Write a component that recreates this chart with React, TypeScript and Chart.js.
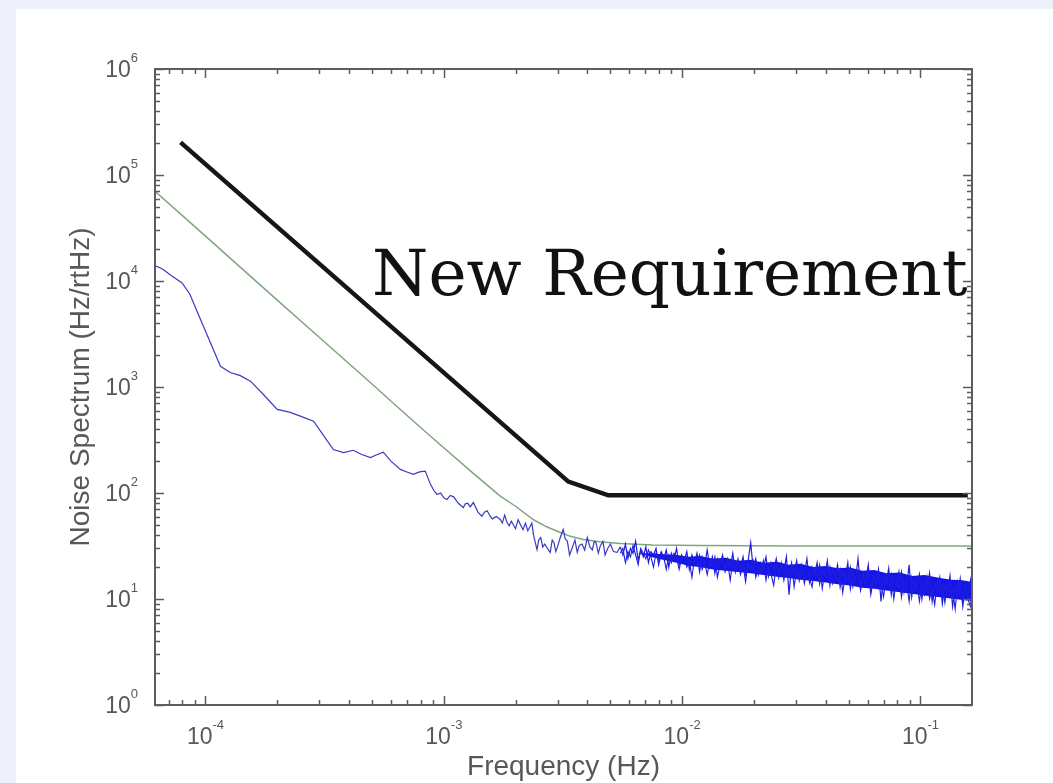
import React, { useEffect, useRef } from "react";
import { Chart, registerables } from "chart.js";

Chart.register(...registerables);

// ---- axis ranges & tick labels ----
const xMin = 6.14e-5;
const xMax = 0.1645;
const yMin = 1;
const yMax = 1e6;
const xTickExps = [-4, -3, -2, -1];
const yTickExps = [0, 1, 2, 3, 4, 5, 6];
const xTitle = "Frequency (Hz)";
const yTitle = "Noise Spectrum (Hz/rtHz)";
const requirementLabel = "New Requirement";
const requirementLabelFreq = 5.0e-4;
const requirementLabelEndFreq = 0.158;
const requirementLabelVal = 7300;

// ---- "New Requirement" (black) ----
const reqFreq = [7.86e-5, 3.33e-3, 4.9e-3, 0.158];
const reqVal = [2.03e5, 128, 95, 95];

// ---- model curve (green) ----
const modelFreq = [
  6.14e-5, 1e-4, 2e-4, 3e-4, 4.76e-4, 6.57e-4, 9.04e-4, 1.3e-3, 1.725e-3, 2e-3,
  2.37e-3, 2.7e-3, 3.08e-3, 3.4e-3, 3.85e-3, 4.5e-3, 5.5e-3, 7.5e-3, 1.19e-2, 3e-2, 0.1645,
];
const modelVal = [
  7.03e4, 2.65e4, 6.6e3, 2.95e3, 1178, 614, 325, 160, 93.3, 75,
  56.2, 48, 42.4, 39, 36.4, 34.6, 33.3, 32.4, 32, 31.7, 31.6,
];

// ---- measured spectrum (blue), low-frequency part ----
const blueLowFreq = [
  6.14e-5, 6.6e-5, 7.2e-5, 7.98e-5, 8.6e-5, 9.53e-5, 1.05e-4, 1.156e-4, 1.27e-4,
  1.4e-4, 1.545e-4, 1.75e-4, 2.0e-4, 2.25e-4, 2.5e-4, 2.84e-4, 3.1e-4, 3.44e-4,
  3.8e-4, 4.17e-4, 4.5e-4, 4.92e-4, 5.2e-4, 5.57e-4, 6.0e-4, 6.57e-4, 7.0e-4,
  7.45e-4, 7.9e-4, 8.36e-4, 8.8e-4, 9.1e-4, 9.37e-4, 9.7e-4, 1.0e-3, 1.031e-3,
  1.065e-3, 1.1e-3, 1.15e-3, 1.208e-3, 1.23e-3, 1.26e-3, 1.29e-3, 1.33e-3,
  1.39e-3, 1.445e-3, 1.48e-3, 1.52e-3, 1.56e-3, 1.6e-3, 1.66e-3, 1.725e-3,
  1.76e-3, 1.8e-3, 1.84e-3, 1.88e-3, 1.92e-3, 1.956e-3, 2.0e-3, 2.05e-3, 2.1e-3,
  2.15e-3, 2.2e-3, 2.25e-3, 2.306e-3, 2.34e-3, 2.38e-3, 2.42e-3, 2.46e-3, 2.5e-3,
  2.55e-3, 2.6e-3, 2.65e-3, 2.72e-3, 2.795e-3, 2.85e-3, 2.9e-3, 2.95e-3, 3.0e-3,
  3.08e-3, 3.17e-3, 3.23e-3, 3.3e-3, 3.37e-3, 3.45e-3, 3.55e-3, 3.63e-3, 3.7e-3,
  3.8e-3, 3.9e-3, 4.0e-3, 4.1e-3, 4.2e-3, 4.28e-3, 4.35e-3, 4.45e-3, 4.53e-3,
  4.65e-3, 4.75e-3, 4.87e-3, 5.0e-3, 5.15e-3, 5.34e-3,
];
const blueLowVal = [
  1.4e4, 1.3e4, 1.12e4, 9.6e3, 7.5e3, 4.33e3, 2.6e3, 1.57e3, 1.37e3,
  1.28e3, 1.135e3, 850, 614, 580, 531, 476, 360, 257,
  240, 253, 232, 216, 228, 243, 200, 167, 158,
  150, 158, 161, 120, 105, 96.8, 100, 90, 86.9,
  95, 92, 80, 73, 79, 80, 74, 81.3,
  66, 60.4, 66, 68, 61, 57, 60, 56.2,
  52, 62, 53, 49, 54, 50.4, 46, 56, 50,
  45, 52, 44, 48.6, 52, 40, 34, 29.3, 36,
  38, 31, 33, 30, 27.5, 36, 34, 28, 31,
  38, 45.3, 37, 35, 26, 30, 36, 27.5, 32,
  33, 29, 38, 31, 29, 35, 34, 27, 31.5,
  35, 26, 30, 33, 28, 27.5,
];

// ---- measured spectrum (blue), dense high-frequency part ----
const blueHighFreq = [
  5.5e-3, 5.64e-3, 5.78e-3, 5.92e-3, 6.07e-3, 6.22e-3, 6.38e-3, 6.54e-3, 6.7e-3, 6.87e-3,
  7.04e-3, 7.22e-3, 7.4e-3, 7.58e-3, 7.77e-3, 7.97e-3, 8.17e-3, 8.37e-3, 8.58e-3, 8.79e-3,
  9.01e-3, 9.24e-3, 9.47e-3, 9.71e-3, 9.95e-3,
  1.02e-2, 1.046e-2, 1.072e-2, 1.099e-2, 1.126e-2, 1.154e-2, 1.183e-2, 1.213e-2, 1.243e-2, 1.274e-2,
  1.306e-2, 1.339e-2, 1.372e-2, 1.406e-2, 1.441e-2, 1.477e-2, 1.514e-2, 1.552e-2, 1.591e-2, 1.631e-2,
  1.672e-2, 1.714e-2, 1.757e-2, 1.801e-2, 1.846e-2, 1.892e-2, 1.939e-2, 1.987e-2, 2.037e-2, 2.088e-2,
  2.14e-2, 2.193e-2, 2.248e-2, 2.304e-2, 2.362e-2, 2.421e-2, 2.482e-2, 2.544e-2, 2.607e-2, 2.672e-2,
  2.739e-2, 2.808e-2, 2.878e-2, 2.95e-2, 3.024e-2, 3.099e-2, 3.177e-2, 3.256e-2, 3.338e-2, 3.421e-2,
  3.507e-2, 3.594e-2, 3.684e-2, 3.776e-2, 3.871e-2, 3.967e-2, 4.067e-2, 4.168e-2, 4.272e-2, 4.379e-2,
  4.489e-2, 4.601e-2, 4.716e-2, 4.834e-2, 4.955e-2, 5.079e-2, 5.206e-2, 5.336e-2, 5.469e-2, 5.606e-2,
  5.746e-2, 5.89e-2, 6.037e-2, 6.188e-2, 6.343e-2, 6.501e-2, 6.664e-2, 6.83e-2, 7.001e-2, 7.176e-2,
  7.356e-2, 7.54e-2, 7.728e-2, 7.921e-2, 8.119e-2, 8.322e-2, 8.53e-2, 8.744e-2, 8.962e-2, 9.186e-2,
  9.416e-2, 9.651e-2, 9.893e-2,
  0.1014, 0.1039, 0.1065, 0.1092, 0.1119, 0.1147, 0.1176, 0.1205, 0.1235, 0.1266,
  0.1298, 0.133, 0.1364, 0.1398, 0.1433, 0.1468, 0.1505, 0.1543, 0.1581, 0.1621, 0.1645,
];
const blueHighVal = [
  31, 26, 33, 24, 30, 27, 35, 23, 29, 25,
  31, 22, 28, 26, 30, 21, 27, 24, 29, 20,
  27, 23, 30, 21, 26,
  23, 28, 19, 26, 22, 27, 18, 25, 21, 29,
  20, 25, 17.5, 24, 21, 26, 19, 24, 20, 27,
  18, 23, 20, 25, 17, 23, 34, 19, 24, 17,
  22, 19.5, 25, 16.5, 22, 19, 24, 16, 21, 18.5,
  25, 11, 21, 18, 23, 15, 20, 17.5, 24, 14.5,
  20, 17, 22, 14, 19.5, 16.5, 23, 13.5, 19, 16,
  21, 13, 18.5, 15.5, 22, 12.5, 18, 15, 24, 13,
  17.5, 14.5, 21, 12, 17, 14, 19, 9.5, 16.5, 14,
  19.5, 11, 16, 13.5, 18, 10.5, 15.5, 13, 21, 10.5,
  15, 12.5, 17,
  10, 14.5, 12, 17.5, 9.5, 14, 12, 16, 9, 13.5,
  11.5, 16.5, 8.5, 13, 11, 15.5, 8.5, 13, 10.5, 15, 11,
];
// second trace through the same bins (the dense band is two overlapping sweeps)
const blueHighVal2 = [
  27, 30, 22, 28, 25, 32, 26, 21, 30, 27,
  24, 29, 25, 20, 27, 23, 28, 25, 19, 26,
  22, 27, 25, 19, 24,
  25, 20, 23, 16, 24, 21, 26, 19, 22, 17,
  23, 20, 25, 16, 21, 24, 18, 22, 15, 23,
  19, 24, 17, 21, 14.5, 22, 19, 23, 16, 20,
  18, 23, 15, 20, 17, 13.5, 21, 18, 22, 15,
  20, 17, 22, 13, 19, 16.5, 21, 14, 18, 16,
  13, 19, 16, 21, 12.5, 18, 15.5, 20, 14, 17,
  15, 19, 11.5, 17, 14.5, 20, 13, 16.5, 18.5, 12,
  16, 13.5, 18.5, 11, 15.5, 13, 17.5, 14.5, 10.5, 16,
  13, 17, 10, 15, 12.5, 18, 11.5, 14.5, 9.5, 16,
  12, 15.5, 9.5,
  13.5, 11, 16, 10, 12.5, 8.8, 14.5, 11.5, 13.5, 9.2,
  14, 10.5, 12.5, 8, 14.5, 11, 9.5, 13.5, 10, 8.5, 12.5,
];

// ---- solid core of the dense blue band ----
const coreFreq = [
  6.5e-3, 7.35e-3, 8.3e-3, 9.5e-3, 1.07e-2, 1.19e-2, 1.35e-2, 1.52e-2, 1.72e-2, 1.93e-2,
  2.2e-2, 2.5e-2, 2.8e-2, 3.13e-2, 3.55e-2, 4e-2, 4.5e-2, 5.06e-2, 5.7e-2, 6.4e-2,
  7.2e-2, 8.2e-2, 9.2e-2, 0.104, 0.121, 0.135, 0.15, 0.1645,
];
const coreUpper = [
  27, 27, 26.5, 26, 25, 25.5, 24, 24.5, 23, 23.5,
  22, 22.5, 21, 21.5, 20, 20.5, 19.5, 19.8, 18.5, 18.8,
  17.5, 17.8, 16.5, 16.8, 15.8, 15.2, 15, 14.5,
];
const coreLower = [
  27, 25, 23.5, 22, 20.5, 20, 19, 18.5, 18, 17.5,
  16.8, 16.2, 15.8, 15.2, 14.8, 14.3, 13.8, 13.4, 12.8, 12.5,
  12, 11.6, 11.2, 10.8, 10.4, 10.1, 9.8, 9.6,
];

const SANS = "'Liberation Sans', Arial, Helvetica, sans-serif";
const AXIS_COLOR = "#5c5c5c";
const TEXT_COLOR = "#585858";

const pts = (xs: number[], ys: number[]) => xs.map((x, i) => ({ x, y: ys[i] }));

function drawPow(
  ctx: CanvasRenderingContext2D,
  exp: string,
  x: number,
  baseY: number,
  align: "center" | "right"
) {
  const baseFont = `23px ${SANS}`;
  const expFont = `13px ${SANS}`;
  ctx.font = baseFont;
  const w1 = ctx.measureText("10").width;
  ctx.font = expFont;
  const w2 = ctx.measureText(exp).width;
  const total = w1 + w2;
  const left = align === "center" ? x - total / 2 : x - total;
  ctx.textAlign = "left";
  ctx.textBaseline = "alphabetic";
  ctx.font = baseFont;
  ctx.fillText("10", left, baseY);
  ctx.font = expFont;
  ctx.fillText(exp, left + w1, baseY - 15);
}

const matlabAxes = {
  id: "matlabAxes",
  afterDatasetsDraw(chart: any) {
    const { ctx, chartArea: a, scales } = chart;
    const xs = scales.x;
    const ys = scales.y;
    ctx.save();

    // requirement annotation
    const lx = xs.getPixelForValue(requirementLabelFreq);
    const rx = xs.getPixelForValue(requirementLabelEndFreq);
    const ly = ys.getPixelForValue(requirementLabelVal);
    ctx.font = `100px 'DejaVu Serif', serif`;
    const w100 = ctx.measureText(requirementLabel).width;
    const size = (100 * (rx - lx)) / w100;
    ctx.font = `${size}px 'DejaVu Serif', serif`;
    ctx.fillStyle = "#111111";
    ctx.textAlign = "left";
    ctx.textBaseline = "alphabetic";
    ctx.fillText(requirementLabel, lx, ly);

    // ticks (inward, all four sides)
    ctx.strokeStyle = AXIS_COLOR;
    ctx.lineWidth = 1.5;
    ctx.beginPath();
    for (let e = -5; e <= 0; e++) {
      for (let m = 1; m <= 9; m++) {
        const v = m * Math.pow(10, e);
        if (v < xMin || v > xMax) continue;
        const px = Math.round(xs.getPixelForValue(v)) + 0.5;
        const len = m === 1 ? 9 : 5;
        ctx.moveTo(px, a.bottom);
        ctx.lineTo(px, a.bottom - len);
        ctx.moveTo(px, a.top);
        ctx.lineTo(px, a.top + len);
      }
    }
    for (let e = 0; e <= 6; e++) {
      for (let m = 1; m <= 9; m++) {
        const v = m * Math.pow(10, e);
        if (v < yMin || v > yMax) continue;
        const py = Math.round(ys.getPixelForValue(v)) + 0.5;
        const len = m === 1 ? 9 : 5;
        ctx.moveTo(a.left, py);
        ctx.lineTo(a.left + len, py);
        ctx.moveTo(a.right, py);
        ctx.lineTo(a.right - len, py);
      }
    }
    ctx.stroke();

    // box
    ctx.lineWidth = 2;
    ctx.strokeRect(a.left, a.top, a.right - a.left, a.bottom - a.top);

    // tick labels
    ctx.fillStyle = TEXT_COLOR;
    xTickExps.forEach((e) => {
      const px = xs.getPixelForValue(Math.pow(10, e));
      drawPow(ctx, String(e), px, a.bottom + 39, "center");
    });
    yTickExps.forEach((e) => {
      const py = ys.getPixelForValue(Math.pow(10, e));
      drawPow(ctx, String(e), a.left - 17, py + 8, "right");
    });
    ctx.restore();
  },
};

export default function App() {
  const canvasRef = useRef<HTMLCanvasElement | null>(null);

  useEffect(() => {
    const canvas = canvasRef.current;
    if (!canvas) return;
    const lowData = pts(blueLowFreq, blueLowVal).concat(
      pts(blueHighFreq.slice(0, 1), blueHighVal.slice(0, 1))
    );
    const chart = new Chart(canvas, {
      type: "line",
      data: {
        datasets: [
          {
            label: "Requirement",
            data: pts(reqFreq, reqVal),
            borderColor: "#161616",
            borderWidth: 4.5,
            pointRadius: 0,
            fill: false,
            tension: 0,
          },
          {
            label: "Measured (low f)",
            data: lowData,
            borderColor: "#3a3ac2",
            borderWidth: 1.2,
            pointRadius: 0,
            fill: false,
            tension: 0,
          },
          {
            label: "Measured (high f)",
            data: pts(blueHighFreq, blueHighVal),
            borderColor: "#1e1ee0",
            borderWidth: 1.2,
            pointRadius: 0,
            fill: false,
            tension: 0,
          },
          {
            label: "Measured (high f, 2)",
            data: pts(blueHighFreq, blueHighVal2),
            borderColor: "#1e1ee0",
            borderWidth: 1.1,
            pointRadius: 0,
            fill: false,
            tension: 0,
          },
          {
            label: "core upper",
            data: pts(coreFreq, coreUpper),
            borderColor: "rgba(0,0,0,0)",
            borderWidth: 0,
            backgroundColor: "#1414ea",
            pointRadius: 0,
            fill: "+1",
            tension: 0,
          },
          {
            label: "core lower",
            data: pts(coreFreq, coreLower),
            borderColor: "rgba(0,0,0,0)",
            borderWidth: 0,
            pointRadius: 0,
            fill: false,
            tension: 0,
          },
          {
            label: "Model",
            data: pts(modelFreq, modelVal),
            borderColor: "#7fa67f",
            borderWidth: 1.5,
            pointRadius: 0,
            fill: false,
            tension: 0,
          },
        ],
      },
      options: {
        animation: false,
        responsive: false,
        events: [],
        layout: { padding: { left: 0, top: 69, right: 81, bottom: 0 } },
        plugins: {
          legend: { display: false },
          tooltip: { enabled: false },
        },
        scales: {
          x: {
            type: "logarithmic",
            min: xMin,
            max: xMax,
            grid: { display: false },
            border: { display: false },
            ticks: { display: false },
            title: {
              display: true,
              text: xTitle,
              color: TEXT_COLOR,
              font: { family: SANS, size: 28 },
              padding: { top: 0, bottom: -1 },
            },
            afterFit: (scale: any) => {
              scale.height = 78;
            },
          },
          y: {
            type: "logarithmic",
            min: yMin,
            max: yMax,
            grid: { display: false },
            border: { display: false },
            ticks: { display: false },
            title: {
              display: true,
              text: yTitle,
              color: TEXT_COLOR,
              font: { family: SANS, size: 28 },
              padding: { top: 64, bottom: 0 },
            },
            afterFit: (scale: any) => {
              scale.width = 155;
            },
          },
        },
      },
      plugins: [matlabAxes],
    });
    return () => chart.destroy();
  }, []);

  return (
    <div style={{ position: "fixed", inset: 0, background: "#eef0fb", overflow: "hidden" }}>
      <div
        style={{ position: "absolute", left: 16, top: 9, right: 0, bottom: 0, background: "#ffffff" }}
      />
      <canvas
        ref={canvasRef}
        width={1053}
        height={783}
        style={{ position: "absolute", left: 0, top: 0, width: 1053, height: 783 }}
      />
    </div>
  );
}
